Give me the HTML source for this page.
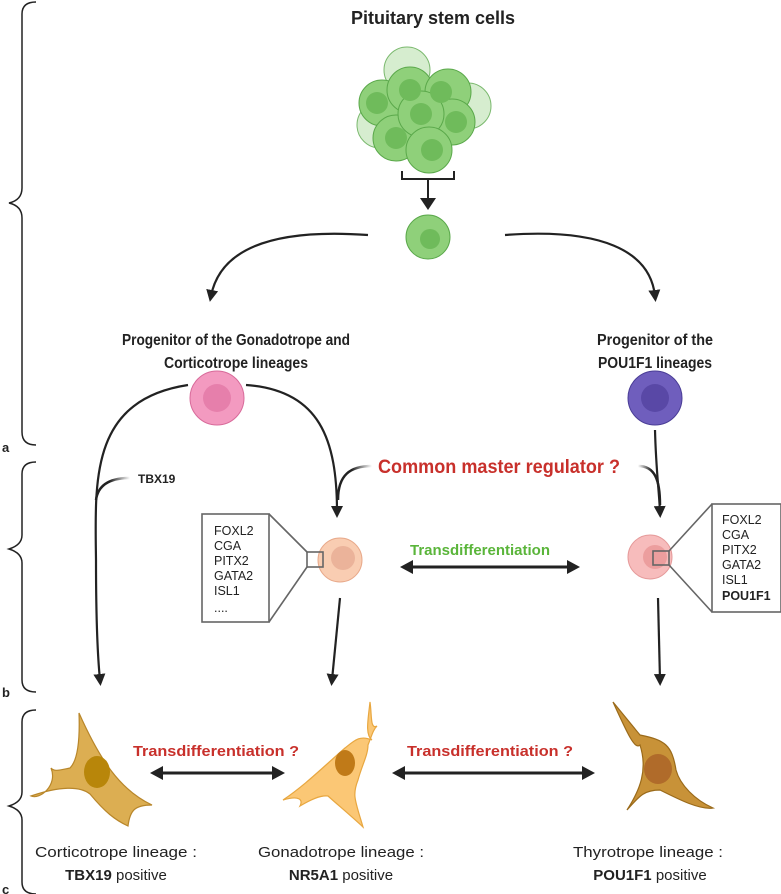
<!DOCTYPE html>
<html><head><meta charset="utf-8"><style>
html,body{margin:0;padding:0;background:#fff;}
svg{display:block;font-family:"Liberation Sans",Arial,sans-serif;}
</style></head><body>
<svg width="781" height="894" viewBox="0 0 781 894" xmlns="http://www.w3.org/2000/svg">
<defs>
<marker id="ah" markerWidth="12" markerHeight="12" refX="6" refY="6" orient="auto" markerUnits="userSpaceOnUse" viewBox="0 0 12 12"><path d="M0,0 L12,6 L0,12 z" fill="#222"/></marker>
<linearGradient id="gL" x1="1" y1="0" x2="0" y2="0"><stop offset="0" stop-color="#fff"/><stop offset="0.6" stop-color="#222"/></linearGradient>
<linearGradient id="gR" x1="0" y1="0" x2="1" y2="0"><stop offset="0" stop-color="#fff"/><stop offset="0.6" stop-color="#222"/></linearGradient>
</defs>
<g fill="none" stroke="#222" stroke-width="1.5">
<path d="M36,2 Q22,2 22,14 L22,188 Q22,200 9,203 Q22,206 22,218 L22,432 Q22,445 36,445"/>
<path d="M36,462 Q22,462 22,474 L22,535 Q22,545 9,549 Q22,553 22,563 L22,680 Q22,692 36,692"/>
<path d="M36,710 Q22,710 22,722 L22,792 Q22,802 9,806 Q22,810 22,820 L22,882 Q22,894 36,894"/>
</g>
<g font-weight="bold" font-size="13" fill="#222"><text x="2" y="452">a</text><text x="2" y="697">b</text><text x="2" y="894">c</text></g>
<text x="433" y="24" text-anchor="middle" font-size="18" font-weight="bold" fill="#222">Pituitary stem cells</text>
<g stroke="#5aa84a" stroke-width="1">
<circle cx="407" cy="70" r="23" fill="#cde9c4" opacity=".8"/>
<circle cx="468" cy="106" r="23" fill="#cde9c4" opacity=".8"/>
<circle cx="380" cy="125" r="23" fill="#cde9c4" opacity=".8"/>
<g fill="#8fd07a"><circle cx="382" cy="103" r="23"/><circle cx="410" cy="90" r="23"/><circle cx="448" cy="92" r="23"/><circle cx="452" cy="122" r="23"/><circle cx="396" cy="138" r="23"/><circle cx="421" cy="114" r="23"/><circle cx="429" cy="150" r="23"/></g>
<g fill="#6fbb5b" stroke="none"><circle cx="377" cy="103" r="11"/><circle cx="410" cy="90" r="11"/><circle cx="441" cy="92" r="11"/><circle cx="456" cy="122" r="11"/><circle cx="396" cy="138" r="11"/><circle cx="421" cy="114" r="11"/><circle cx="432" cy="150" r="11"/></g>
</g>
<path d="M402,171 V179 H454 V171 M428,179 V198" fill="none" stroke="#222" stroke-width="2"/>
<path d="M420,198 L436,198 L428,210 z" fill="#222"/>
<circle cx="428" cy="237" r="22" fill="#8fd07a" stroke="#5aa84a"/><circle cx="430" cy="239" r="10" fill="#6fbb5b"/>
<g fill="none" stroke="#222" stroke-width="2.2">
<path d="M368,235 C270,228 220,250 211,296" marker-end="url(#ah)"/>
<path d="M505,235 C600,228 650,250 655,296" marker-end="url(#ah)"/>
</g>
<g font-size="15.5" font-weight="bold" fill="#222" text-anchor="middle">
<text x="236" y="345" textLength="228" lengthAdjust="spacingAndGlyphs">Progenitor of the Gonadotrope and</text><text x="236" y="368" textLength="144" lengthAdjust="spacingAndGlyphs">Corticotrope lineages</text>
<text x="655" y="345" textLength="116" lengthAdjust="spacingAndGlyphs">Progenitor of the</text><text x="655" y="368" textLength="114" lengthAdjust="spacingAndGlyphs">POU1F1 lineages</text>
</g>
<circle cx="217" cy="398" r="27" fill="#f39ac0" stroke="#d86a9a"/><circle cx="217" cy="398" r="14" fill="#e67fab"/>
<circle cx="655" cy="398" r="27" fill="#6f5ebd" stroke="#4a3d96"/><circle cx="655" cy="398" r="14" fill="#5948a6"/>
<g fill="none" stroke="#222" stroke-width="2.2">
<path d="M188,385 C90,400 95,480 96,560 C96,620 98,660 100,680" marker-end="url(#ah)"/>
<path d="M246,385 C320,390 337,440 337,512" marker-end="url(#ah)"/>
<path d="M655,430 C656,470 659,490 660,512" marker-end="url(#ah)"/>
<path d="M340,598 L332,680" marker-end="url(#ah)"/>
<path d="M658,598 L660,680" marker-end="url(#ah)"/>
</g>
<g fill="none" stroke-width="2.5">
<path d="M130,478 C110,478 98,485 96,500" stroke="url(#gL)"/>
<path d="M372,466 C350,466 338,475 338,500" stroke="url(#gL)"/>
<path d="M638,466 C655,466 660,480 660,505" stroke="url(#gR)"/>
</g>
<text x="138" y="483" font-size="12" font-weight="bold" fill="#222">TBX19</text>
<text x="499" y="473" text-anchor="middle" font-size="19" font-weight="bold" fill="#c8302b" textLength="242" lengthAdjust="spacingAndGlyphs">Common master regulator ?</text>
<circle cx="340" cy="560" r="22" fill="#f9cdb2" stroke="#e8a98a"/><circle cx="343" cy="558" r="12" fill="#ebb39a"/>
<circle cx="650" cy="557" r="22" fill="#f7bcbc" stroke="#e59a9a"/><circle cx="655" cy="557" r="12" fill="#ec9e9e"/>
<g fill="none" stroke="#666" stroke-width="1.6">
<rect x="202" y="514" width="67" height="108" fill="#fff"/>
<rect x="307" y="552" width="16" height="15"/>
<path d="M269,514 L307,552 M269,622 L307,567"/>
<rect x="712" y="504" width="69" height="108" fill="#fff"/>
<rect x="653" y="551" width="16" height="14"/>
<path d="M712,504 L669,551 M712,612 L669,565"/>
</g>
<g font-size="12.5" fill="#222">
<text x="214" y="535">FOXL2</text><text x="214" y="550">CGA</text><text x="214" y="565">PITX2</text><text x="214" y="580">GATA2</text><text x="214" y="595">ISL1</text><text x="214" y="612">....</text>
<text x="722" y="524">FOXL2</text><text x="722" y="539">CGA</text><text x="722" y="554">PITX2</text><text x="722" y="569">GATA2</text><text x="722" y="584">ISL1</text><text x="722" y="600" font-weight="bold">POU1F1</text>
</g>
<text x="480" y="555" text-anchor="middle" font-size="15" font-weight="bold" fill="#5ab53a">Transdifferentiation</text>
<g stroke="#222" stroke-width="3" fill="#222">
<line x1="410" y1="567" x2="570" y2="567"/><path d="M400,567 L413,560 L413,574 z" stroke="none"/><path d="M580,567 L567,560 L567,574 z" stroke="none"/>
<line x1="160" y1="773" x2="275" y2="773"/><path d="M150,773 L163,766 L163,780 z" stroke="none"/><path d="M285,773 L272,766 L272,780 z" stroke="none"/>
<line x1="402" y1="773" x2="585" y2="773"/><path d="M392,773 L405,766 L405,780 z" stroke="none"/><path d="M595,773 L582,766 L582,780 z" stroke="none"/>
</g>
<g font-size="15" font-weight="bold" fill="#c8302b" text-anchor="middle">
<text x="216" y="756" textLength="166" lengthAdjust="spacingAndGlyphs">Transdifferentiation ?</text><text x="490" y="756" textLength="166" lengthAdjust="spacingAndGlyphs">Transdifferentiation ?</text>
</g>
<path d="M79,713 C80,740 78,760 70,768 C60,770 54,772 51,768 C58,785 40,800 31,796 C60,786 80,786 90,794 C105,812 115,820 128,826 C130,810 135,805 152,805 C120,790 100,760 79,713 z" fill="#dcae52" stroke="#b8862a" stroke-width="1.2"/>
<ellipse cx="97" cy="772" rx="13" ry="16" fill="#b8860a"/>
<path d="M370,702 C368,720 365,735 372,740 C360,735 355,740 345,748 C320,770 305,785 283,800 C300,795 303,800 300,806 C310,800 320,795 328,796 C338,805 350,815 363,827 C355,800 352,795 358,780 C362,765 368,755 368,745 C372,735 373,730 377,726 C370,730 372,715 370,702 z" fill="#fbc775" stroke="#e8a740" stroke-width="1.2"/>
<ellipse cx="345" cy="763" rx="10" ry="13" fill="#c07a18"/>
<path d="M613,702 C628,735 635,750 640,745 C648,770 640,790 627,810 C640,795 645,790 660,790 C680,800 700,810 713,808 C695,800 680,785 676,770 C672,745 665,740 640,735 z" fill="#c89238" stroke="#9a6a1a" stroke-width="1.2"/>
<ellipse cx="658" cy="769" rx="14" ry="15" fill="#b06b2a"/>
<g font-size="15" fill="#222" text-anchor="middle">
<text x="116" y="857" textLength="162" lengthAdjust="spacingAndGlyphs">Corticotrope lineage :</text><text x="116" y="880"><tspan font-weight="bold">TBX19</tspan> positive</text>
<text x="341" y="857" textLength="166" lengthAdjust="spacingAndGlyphs">Gonadotrope lineage :</text><text x="341" y="880"><tspan font-weight="bold">NR5A1</tspan> positive</text>
<text x="648" y="857" textLength="150" lengthAdjust="spacingAndGlyphs">Thyrotrope lineage :</text><text x="650" y="880"><tspan font-weight="bold">POU1F1</tspan> positive</text>
</g>
</svg>
</body></html>
